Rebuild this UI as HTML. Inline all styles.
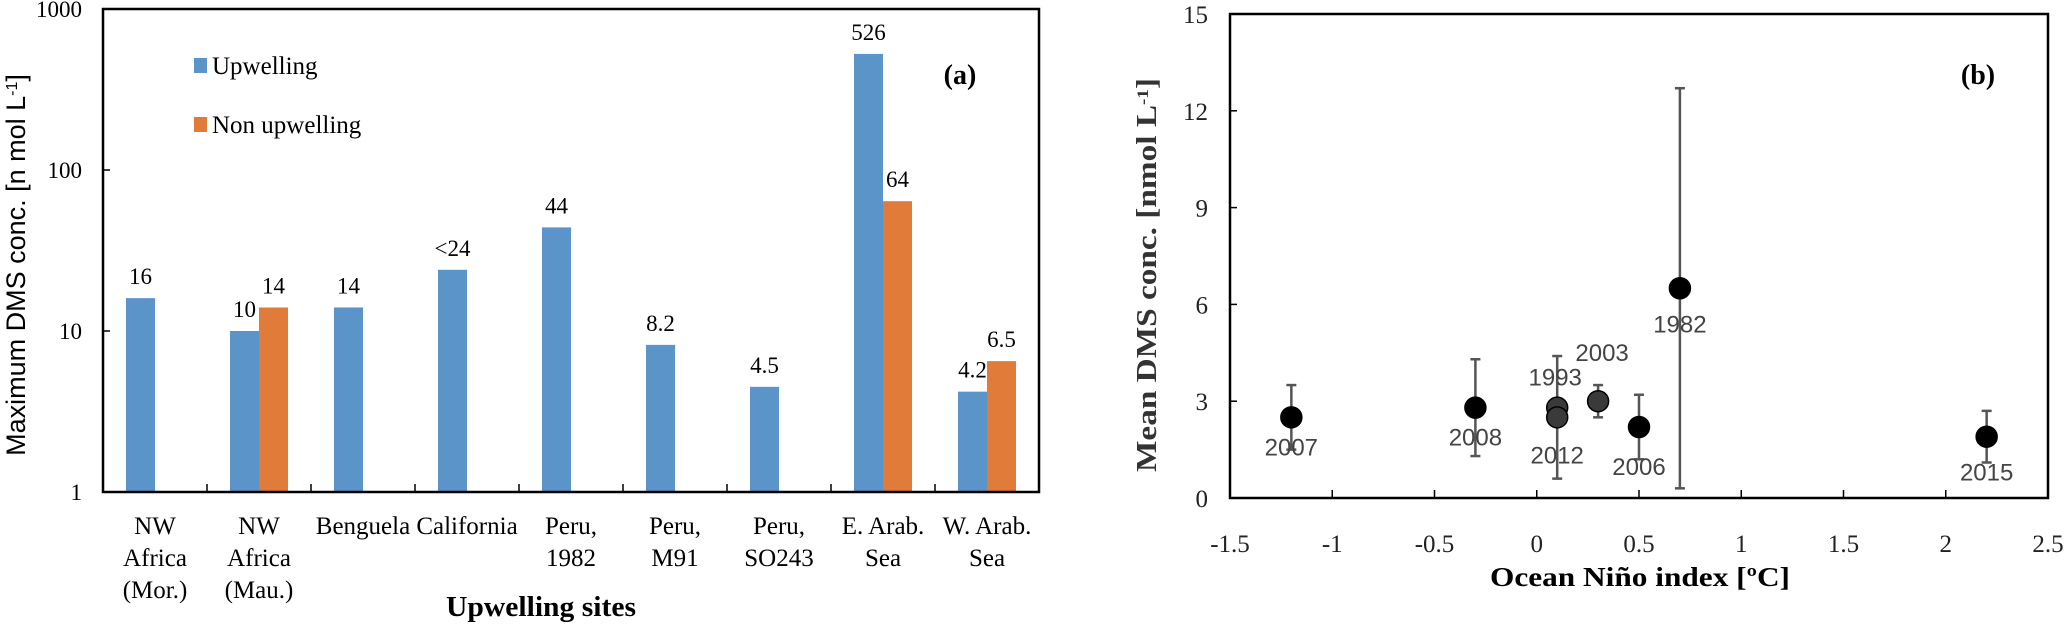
<!DOCTYPE html>
<html><head><meta charset="utf-8"><style>
html,body{margin:0;padding:0;background:#fff;width:2067px;height:625px;overflow:hidden}
svg{display:block}
.serif{font-family:"Liberation Serif",serif}
.sans{font-family:"Liberation Sans","DejaVu Sans",sans-serif}
</style></head><body>
<svg id="chart" width="2067" height="625" viewBox="0 0 2067 625" xmlns="http://www.w3.org/2000/svg">
<g id="pa"></g>
<g id="pb"></g>
</svg>
<script>
const NS="http://www.w3.org/2000/svg";
// Panel (a) data
const siteLines=[["NW","Africa","(Mor.)"],["NW","Africa","(Mau.)"],["Benguela"],["California"],["Peru,","1982"],["Peru,","M91"],["Peru,","SO243"],["E. Arab.","Sea"],["W. Arab.","Sea"]];
const upwelling=[16,10,14,24,44,8.2,4.5,526,4.2];
const upLabels=["16","10","14","<24","44","8.2","4.5","526","4.2"];
const nonUpwelling=[null,14,null,null,null,null,null,64,6.5];
const nonLabels=[null,"14",null,null,null,null,null,"64","6.5"];
const aTicks=[1,10,100,1000];
// Panel (b) data
const years=["2007","2008","1993","2012","2003","2006","1982","2015"];
const oni=[-1.2,-0.3,0.1,0.1,0.3,0.5,0.7,2.2];
const dms=[2.5,2.8,2.8,2.5,3.0,2.2,6.5,1.9];
const errHi=[3.5,4.3,4.4,2.6,3.5,3.2,12.7,2.7];
const errLo=[1.5,1.3,2.8,0.6,2.5,1.2,0.3,1.1];
const xTicks=[-1.5,-1,-0.5,0,0.5,1,1.5,2,2.5];
const xTickLabels=["-1.5","-1","-0.5","0","0.5","1","1.5","2","2.5"];
const yTicks=[0,3,6,9,12,15];

function el(parent,tag,attrs,text){const e=document.createElementNS(NS,tag);for(const k in attrs)e.setAttribute(k,attrs[k]);if(text!=null)e.textContent=text;parent.appendChild(e);return e;}

// ---- Panel a ----
const pa=document.getElementById('pa');
const aL=103,aR=1039,aT=9,aB=492;
const ay=v=>aB-Math.log10(v)*(aB-aT)/3;
const step=(aR-aL)/siteLines.length, bw=29;
const ax=i=>aL+step*(i+0.5);
siteLines.forEach((lines,i)=>{
  const c=ax(i);
  const b=el(pa,'rect',{x:c-bw,y:ay(upwelling[i]),width:bw,height:aB-ay(upwelling[i]),fill:'#5b94c9'});
  
  
  const t=el(pa,'text',{x:c-bw/2,y:ay(upwelling[i])-14,'text-anchor':'middle','font-size':23,class:'serif'},upLabels[i]);
  
  
  if(nonUpwelling[i]!=null){
    const o=el(pa,'rect',{x:c,y:ay(nonUpwelling[i]),width:bw,height:aB-ay(nonUpwelling[i]),fill:'#e07b39'});
    
    
    const ot=el(pa,'text',{x:c+bw/2,y:ay(nonUpwelling[i])-14,'text-anchor':'middle','font-size':23,class:'serif'},nonLabels[i]);
    
    
  }
  lines.forEach((s,k)=>{
    const lt=el(pa,'text',{x:c,y:534+k*32,'text-anchor':'middle','font-size':25,class:'serif'},s);
    
    
  });
  if(i>0){const tk=el(pa,'line',{x1:aL+step*i,x2:aL+step*i,y1:aB,y2:aB-8,stroke:'#000','stroke-width':1.5});
    
    }
});
el(pa,'rect',{x:aL,y:aT,width:aR-aL,height:aB-aT,fill:'none',stroke:'#000','stroke-width':2.5});
aTicks.forEach(v=>{
  const tk=el(pa,'line',{x1:aL,x2:aL+7,y1:ay(v),y2:ay(v),stroke:'#000','stroke-width':1.5});
  
  
  const tl=el(pa,'text',{x:82,y:ay(v)+8,'text-anchor':'end','font-size':23,class:'serif'},String(v));
  
  
});
</script>
<script>
(function(){
const pa=document.getElementById('pa');
pa.insertAdjacentHTML('beforeend',
`<g>
<rect x="194" y="58" width="13" height="15" fill="#5b94c9"/>
<text x="212" y="74" font-size="25" class="serif">Upwelling</text>
<rect x="194" y="117" width="13" height="15" fill="#e07b39"/>
<text x="212" y="133" font-size="25" class="serif">Non upwelling</text>
</g>
<text x="960" y="84" font-size="28" font-weight="bold" class="serif" text-anchor="middle">(a)</text>
<text x="541" y="616" font-size="28" font-weight="bold" class="serif" text-anchor="middle" textLength="190" lengthAdjust="spacingAndGlyphs">Upwelling sites</text>
<text transform="translate(25,265) rotate(-90)" font-size="27" class="sans" text-anchor="middle">Maximum DMS conc. [n mol L<tspan baseline-shift="super" font-size="16">-1</tspan>]</text>`);
})();
</script>
<script>
(function(){
const pb=document.getElementById('pb');
const L=1230,R=2048,T=14,B=498;
const bx=v=>L+(v+1.5)*(R-L)/4;
const by=v=>B-v*(B-T)/15;
xTicks.forEach((v,i)=>{
  const tk=el(pb,'line',{x1:bx(v),x2:bx(v),y1:B,y2:B-8,stroke:'#000','stroke-width':1.5});
  
  
  const tl=el(pb,'text',{x:bx(v),y:552,'text-anchor':'middle','font-size':25,class:'serif',fill:'#222'},xTickLabels[i]);
  
  
});
yTicks.forEach(v=>{
  const tk=el(pb,'line',{x1:L,x2:L+7,y1:by(v),y2:by(v),stroke:'#000','stroke-width':1.5});
  
  
  const tl=el(pb,'text',{x:1208,y:by(v)+9,'text-anchor':'end','font-size':25,class:'serif',fill:'#222'},String(v));
  
  
});
el(pb,'rect',{x:L,y:T,width:R-L,height:B-T,fill:'none',stroke:'#000','stroke-width':2.5});
oni.forEach((x,i)=>{
  const cx=bx(x);
  const g=el(pb,'g',{stroke:'#555','stroke-width':2.5});
  
  
  el(g,'line',{x1:cx,x2:cx,y1:by(errHi[i]),y2:by(errLo[i])});
  el(g,'line',{x1:cx-5,x2:cx+5,y1:by(errHi[i]),y2:by(errHi[i])});
  el(g,'line',{x1:cx-5,x2:cx+5,y1:by(errLo[i]),y2:by(errLo[i])});
});
const grey={"1993":1,"2012":1,"2003":1};
const labOff={"2007":[0,38],"2008":[0,38],"1993":[-2,-22],"2012":[0,46],"2003":[4,-40],"2006":[0,48],"1982":[0,44],"2015":[0,44]};
oni.forEach((x,i)=>{
  const y=years[i];
  const p=el(pb,'circle',{cx:bx(x),cy:by(dms[i]),r:10.5,fill:grey[y]?'#3a3a3a':'#000',stroke:'#000','stroke-width':1.5});
  
  
});
oni.forEach((x,i)=>{
  const y=years[i],o=labOff[y];
  const t=el(pb,'text',{x:bx(x)+o[0],y:by(dms[i])+o[1],'text-anchor':'middle','font-size':24,class:'sans',fill:'#444'},y);
  
  
});
pb.insertAdjacentHTML('beforeend',
`<text x="1978" y="84" font-size="28" font-weight="bold" class="serif" text-anchor="middle">(b)</text>
<text x="1640" y="586" font-size="27" font-weight="bold" class="serif" text-anchor="middle" textLength="300" lengthAdjust="spacingAndGlyphs">Ocean Niño index [ºC]</text>
<text transform="translate(1156,275) rotate(-90)" font-size="28" font-weight="bold" class="serif" text-anchor="middle" fill="#333" textLength="394" lengthAdjust="spacingAndGlyphs">Mean DMS conc. [nmol L<tspan baseline-shift="super" font-size="16">-1</tspan>]</text>`);
})();
</script>
</body></html>
